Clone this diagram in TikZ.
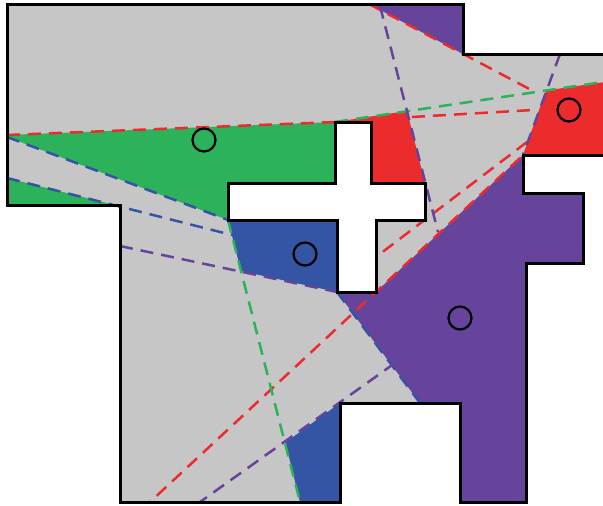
\documentclass[tikz,border=0pt]{standalone}
\usetikzlibrary{positioning}
\definecolor{floorgrey}{RGB}{198,198,198}
\definecolor{seengreen}{RGB}{44,178,90}
\definecolor{seenred}{RGB}{236,44,44}
\definecolor{seenblue}{RGB}{52,84,164}
\definecolor{seenpurple}{RGB}{102,68,155}

\begin{document}
\begin{tikzpicture}[x=1pt,y=-1pt,
  wall/.style={draw=black,line width=3pt,line join=miter},
  ray/.style={line width=2.5pt,dash pattern=on 13pt off 8pt},
  guard/.style={circle,draw=black,line width=2.2pt,minimum size=23pt,inner sep=0pt}]
\useasboundingbox (0,0) rectangle (603,506);
\clip (0,0) rectangle (603,506);
% corners of the room
\coordinate (crossNW) at (335,122);
\coordinate (crossNE) at (371,122);
\coordinate (armTR) at (425,183);
\coordinate (armBR) at (425,220);
\coordinate (armBL) at (228,220);
\coordinate (armTL) at (228,183);
\coordinate (barBL) at (337,292);
\coordinate (barBR) at (376,292);
\coordinate (notchA) at (523,155);
\coordinate (notchB) at (340,403);
% where the rays stop
\coordinate (redL) at (7,135);
\coordinate (redTop) at (369,4);
\coordinate (redMidA) at (412,117);
\coordinate (redMidB) at (533,110);
\coordinate (redUpA) at (527,142);
\coordinate (redUpB) at (376,257);
\coordinate (redLow) at (150,502);
\coordinate (greenR) at (603,82);
\coordinate (greenLow) at (300,502);
\coordinate (blueL1) at (7,137);
\coordinate (blueL2) at (7,178);
\coordinate (blueE2) at (232,235);
\coordinate (blueLow) at (420,403);
\coordinate (purTop1) at (380,6);
\coordinate (purEnd1) at (438,232);
\coordinate (purTop2) at (560,54);
\coordinate (purA3) at (395,363);
\coordinate (purLow3) at (200,502);
\coordinate (purL4) at (120,246);
\coordinate (redEnd) at (535,92);

% floor
\fill[floorgrey] (7,4) -- (463,4) -- (463,54) -- (612,54) -- (612,155) -- (523,155) -- (523,193)
  -- (583,193) -- (583,263) -- (526,263) -- (526,502) -- (460,502) -- (460,403) -- (340,403)
  -- (340,502) -- (120,502) -- (120,205) -- (7,205) -- cycle;

% regions seen by one guard only
\fill[seengreen] (redL) -- (crossNW) -- (335,183) -- (armTL) -- (armBL) -- (blueL1) -- cycle;
\fill[seengreen] (blueL2) -- (7,205) -- (115,205) -- cycle;
\fill[seenblue] (armBL) -- (337,220) -- (barBL) -- (241,271) -- cycle;
\fill[seenblue] (notchB) -- (285.5,442.5) -- (greenLow) -- (340,502) -- cycle;
\fill[seenpurple] (barBL) -- (barBR) -- (notchA) -- (523,193) -- (583,193) -- (583,263) -- (526,263)
  -- (526,502) -- (460,502) -- (460,403) -- (blueLow) -- cycle;
\fill[seenpurple] (redTop) -- (463,4) -- (463,54) -- cycle;
\fill[seenred] (crossNW) -- (407,111) -- (armTR) -- (371,183) -- (crossNE) -- cycle;
\fill[seenred] (546,90.5) -- (612,81) -- (612,155) -- (notchA) -- cycle;

% dashed rays
\draw[ray,seenred] (redL) -- (crossNW);
\draw[ray,seenred] (redMidA) -- (redMidB);
\draw[ray,seenred] (redTop) -- (redEnd);
\draw[ray,seenred] (redUpA) -- (redUpB);
\draw[ray,seenred] (520,158) -- (redLow);
\draw[ray,seengreen] (crossNW) -- (greenR);
\draw[ray,seengreen] (armBL) -- (greenLow);
\draw[ray,seenblue] (blueL1) -- (armBL);
\draw[ray,seenblue] (blueL2) -- (blueE2);
\draw[ray,seenblue] (barBL) -- (blueLow);
\draw[ray,seenpurple] (purTop1) -- (purEnd1);
\draw[ray,seenpurple] (purTop2) -- (notchA);
\draw[ray,seenpurple] (purA3) -- (purLow3);
\draw[ray,seenpurple] (purL4) -- (barBL);

% walls
\draw[wall] (7,4) -- (463,4) -- (463,54) -- (612,54) -- (612,155) -- (523,155) -- (523,193)
  -- (583,193) -- (583,263) -- (526,263) -- (526,502) -- (460,502) -- (460,403) -- (340,403)
  -- (340,502) -- (120,502) -- (120,205) -- (7,205) -- cycle;
\draw[wall,fill=white] (crossNW) -- (crossNE) -- (371,183) -- (armTR) -- (armBR) -- (376,220)
  -- (barBR) -- (barBL) -- (337,220) -- (armBL) -- (armTL) -- (335,183) -- cycle;

% guards
\node[guard] (guardGreen) at (204,140) {};
\node[guard] (guardRed) at (569,110) {};
\node[guard] (guardBlue) at (305,254) {};
\node[guard] (guardPurple) at (460,318) {};
\end{tikzpicture}
\end{document}
